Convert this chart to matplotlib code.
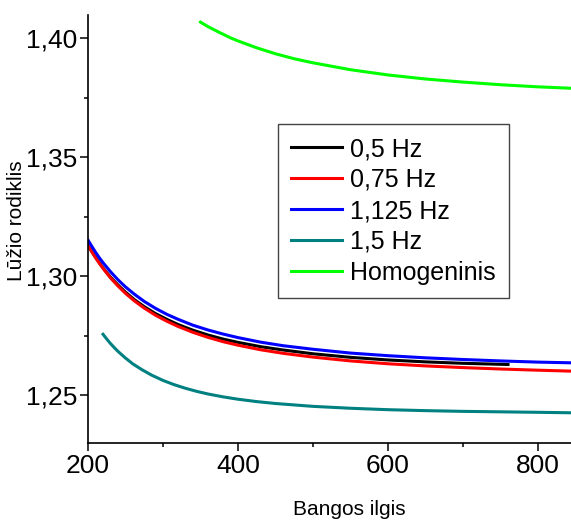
import matplotlib
matplotlib.use("Agg")
import matplotlib.pyplot as plt
from matplotlib.ticker import MultipleLocator, FuncFormatter

plt.rcParams['font.family'] = ['Liberation Sans', 'DejaVu Sans']

# wavelength (nm) and refractive index
wl = [200, 205, 210, 215, 220, 230, 240, 250, 262, 275, 290, 305, 320, 340, 360, 380, 400,
      430, 460, 500, 550, 600, 650, 700, 750, 800, 845]
n_blue = [1.3152, 1.3126, 1.3101, 1.3078, 1.3057, 1.3019, 1.2985, 1.2955, 1.2924, 1.2894,
          1.2865, 1.2840, 1.2819, 1.2794, 1.2774, 1.2757, 1.2742, 1.2723, 1.2708, 1.2693,
          1.2677, 1.2666, 1.2657, 1.2650, 1.2644, 1.2639, 1.2636]
n_red = [1.3130, 1.3103, 1.3078, 1.3055, 1.3033, 1.2993, 1.2959, 1.2928, 1.2896, 1.2866,
         1.2836, 1.2811, 1.2789, 1.2764, 1.2743, 1.2725, 1.2710, 1.2691, 1.2676, 1.2660,
         1.2644, 1.2632, 1.2623, 1.2616, 1.2610, 1.2605, 1.2601]

wl_black = [200, 205, 210, 215, 220, 230, 240, 250, 262, 275, 290, 305, 320, 340, 360, 380,
            400, 430, 460, 500, 550, 600, 650, 700, 760]
n_black = [1.3131, 1.3104, 1.3080, 1.3057, 1.3035, 1.2996, 1.2963, 1.2933, 1.2901, 1.2872,
           1.2843, 1.2819, 1.2797, 1.2773, 1.2753, 1.2736, 1.2722, 1.2704, 1.2690, 1.2674,
           1.2659, 1.2648, 1.2640, 1.2634, 1.2629]

wl_teal = [220, 225, 230, 235, 240, 250, 260, 272, 285, 300, 315, 330, 345, 360, 380, 400,
           425, 450, 500, 550, 600, 650, 700, 750, 800, 845]
n_teal = [1.2756, 1.2736, 1.2717, 1.2700, 1.2684, 1.2656, 1.2631, 1.2607, 1.2584, 1.2562,
          1.2544, 1.2529, 1.2516, 1.2505, 1.2493, 1.2483, 1.2473, 1.2465, 1.2453, 1.2445,
          1.2439, 1.2435, 1.2432, 1.2430, 1.2428, 1.2426]

wl_green = [350, 360, 375, 390, 400, 425, 450, 475, 500, 550, 600, 650, 700, 750, 800, 845]
n_green = [1.4068, 1.4049, 1.4025, 1.4002, 1.3989, 1.3960, 1.3935, 1.3914, 1.3897, 1.3868,
           1.3846, 1.3829, 1.3816, 1.3805, 1.3796, 1.3790]

labels = ['0,5 Hz', '0,75 Hz', '1,125 Hz', '1,5 Hz', 'Homogeninis']

fig = plt.figure(figsize=(5.71, 5.23), dpi=100)
ax = fig.add_axes([88 / 571, 1 - 443 / 523, 483 / 571, 428 / 523])

lw = 2.2
ax.plot(wl_black, n_black, color='black', lw=lw, label=labels[0])
ax.plot(wl, n_red, color='#ff0000', lw=lw, label=labels[1])
ax.plot(wl, n_blue, color='#0000ff', lw=lw, label=labels[2])
ax.plot(wl_teal, n_teal, color='#008080', lw=lw, label=labels[3])
ax.plot(wl_green, n_green, color='#00ff00', lw=lw, label=labels[4])

ax.set_xlim(200, 844)
ax.set_ylim(1.2299, 1.4098)

ax.spines['top'].set_visible(False)
ax.spines['right'].set_visible(False)
for s in ['left', 'bottom']:
    ax.spines[s].set_linewidth(1.2)

ax.xaxis.set_major_locator(MultipleLocator(200))
ax.xaxis.set_minor_locator(MultipleLocator(100))
ax.yaxis.set_major_locator(MultipleLocator(0.05))
ax.yaxis.set_minor_locator(MultipleLocator(0.025))
ax.yaxis.set_major_formatter(FuncFormatter(lambda v, p: ('%.2f' % v).replace('.', ',')))
ax.tick_params(which='major', length=6, width=1.1, labelsize=19, pad=2)
ax.tick_params(which='minor', length=3, width=1.1)

ax.set_xlabel('Bangos ilgis', fontsize=15)
ax.set_ylabel('Lūžio rodiklis', fontsize=15)
ax.xaxis.set_label_coords(0.542, -0.133)
ax.yaxis.set_label_coords(-0.128, 0.52)

leg = ax.legend(loc='upper left', bbox_to_anchor=((277.7 - 88) / 483, (443 - 124) / 428),
                borderaxespad=0, fontsize=18, frameon=True, fancybox=False,
                handlelength=2.05, handletextpad=0.33, labelspacing=0.28, borderpad=0.52)
leg.get_frame().set_edgecolor('#444444')
leg.get_frame().set_linewidth(1.0)
leg.get_frame().set_alpha(1)

fig.savefig('out.png', dpi=100)
